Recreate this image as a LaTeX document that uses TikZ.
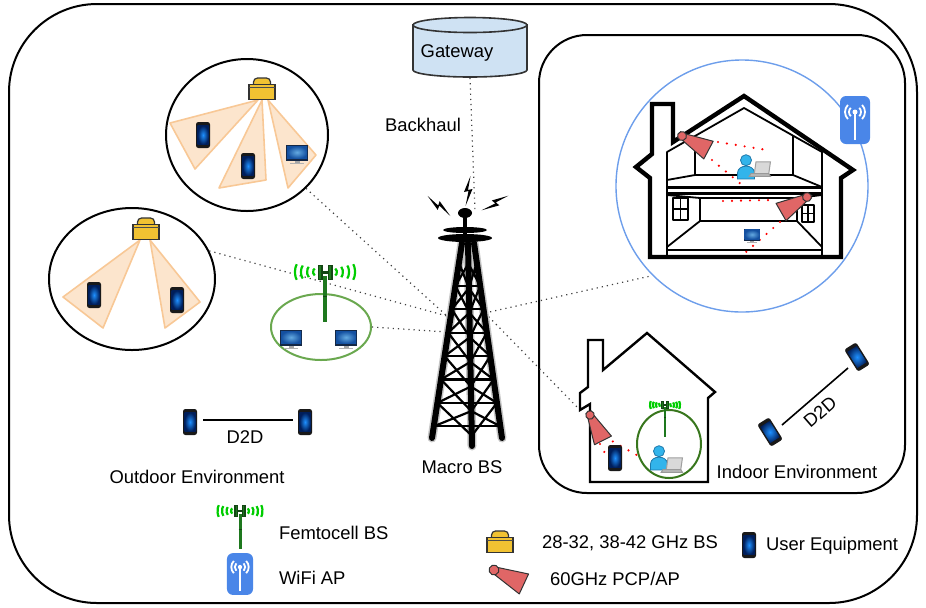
\documentclass[tikz,border=0pt]{standalone}
\usepackage{fontspec}
\setmainfont{Liberation Sans}
\usetikzlibrary{shapes.geometric}

\definecolor{beamfill}{RGB}{252,229,205}
\definecolor{beamedge}{RGB}{248,200,150}
\definecolor{bsyellow}{RGB}{241,194,50}
\definecolor{gwblue}{RGB}{207,226,243}
\definecolor{ringblue}{RGB}{109,158,235}
\definecolor{femgreen}{RGB}{106,168,79}
\definecolor{cellgreen}{RGB}{56,118,29}
\definecolor{mastgreen}{RGB}{30,120,30}
\definecolor{mastdark}{RGB}{20,70,20}
\definecolor{wavegreen}{RGB}{0,205,0}
\definecolor{wifiblue}{RGB}{74,134,232}
\definecolor{pcpred}{RGB}{224,102,102}
\definecolor{personblue}{RGB}{50,180,235}
\definecolor{persondark}{RGB}{30,120,170}
\definecolor{phonelight}{RGB}{30,144,255}
\definecolor{phonedark}{RGB}{0,30,90}
\definecolor{monlight}{RGB}{100,170,225}
\definecolor{mondark}{RGB}{20,80,160}
\definecolor{monframe}{RGB}{20,40,70}

\tikzset{
  beam/.style={fill=beamfill, draw=beamedge, line width=0.8pt, line join=round},
  radio/.style={red, line width=1.2pt, line cap=round, dash pattern=on 0pt off 4.5pt},
  link/.style={black!75, line width=0.6pt, dotted},
  towerleg/.style={line width=3pt, line cap=round},
  towerbar/.style={line width=1.1pt, line cap=round},
  wall/.style={line width=2.2pt, line join=miter},
  room/.style={line width=0.9pt, line join=round},
  phone/.pic={
    \fill[black!90, rounded corners=1.2pt] (-7,-13) rectangle (7,13);
    \shade[inner color=phonelight, outer color=phonedark] (-5.5,-9.5) rectangle (5.5,9.5);
  },
  monitor/.pic={
    \fill[gray!70] (-2.5,7) rectangle (2.5,10);
    \fill[gray!60] (-7,9.5) rectangle (7,11);
    \fill[monframe] (-11,-8) rectangle (11,7.5);
    \shade[inner color=monlight, outer color=mondark] (-10,-7) rectangle (10,5.5);
  },
  bsbox/.pic={
    \draw[fill=bsyellow, draw=black!80, line width=0.6pt, rounded corners=2pt] (-8.5,-7.5) -- (-8.5,-14) -- (8.5,-14) -- (8.5,-7.5);
    \draw[fill=bsyellow, draw=black!80, line width=0.8pt] (-13,-7.5) rectangle (13,7.5);
    \draw[black!70, line width=0.4pt] (-13,-4.5) -- (13,-4.5);
  },
  pcp/.pic={
    \draw[fill=pcpred, draw=black!80, line width=0.5pt, line join=round] (2,-3.5) -- (30,-10) -- (30,10) -- (2,3.5) -- cycle;
    \draw[fill=pcpred, draw=black!80, line width=0.5pt] (0,0) circle (4.5);
  },
  femto/.pic={
    \fill[mastgreen] (-2,4) rectangle (2,50);
    \draw[mastdark, line width=0.4pt] (-2,24) -- (2,24);
    \fill[mastdark] (-7.5,-7.5) rectangle (-2.5,7.5);
    \fill[mastdark] (2.5,-7.5) rectangle (7.5,7.5);
    \fill[mastdark] (-2.5,-1.5) rectangle (2.5,1.5);
    \fill[mastgreen] (-5.8,-6.5) rectangle (-4.2,6.5);
    \fill[mastgreen] (4.2,-6.5) rectangle (5.8,6.5);
    \foreach \d/\h in {12/4,18/6,24/7.5,30/9} {
      \draw[wavegreen, line width=1.1pt, shift={({\d-3.5},0)}] (-60:3.5 and \h) arc[start angle=-60, end angle=60, x radius=3.5, y radius=\h];
      \draw[wavegreen, line width=1.1pt, shift={({3.5-\d},0)}] (120:3.5 and \h) arc[start angle=120, end angle=240, x radius=3.5, y radius=\h];
    }
  },
  wifi/.pic={
    \fill[wifiblue, rounded corners=3pt] (-15,-24) rectangle (15,24);
    \draw[white, line width=0.9pt] (0,-8) -- (0,20);
    \fill[white] (0,-8) circle (2.5);
    \foreach \r in {6,10} {
      \draw[white, line width=0.9pt, shift={(0,-8)}] (-45:\r) arc[start angle=-45, end angle=45, radius=\r];
      \draw[white, line width=0.9pt, shift={(0,-8)}] (135:\r) arc[start angle=135, end angle=225, radius=\r];
    }
  },
  person/.pic={
    \draw[fill=personblue, draw=persondark, line width=0.4pt] (-10,14) -- (-10,7) to[out=90,in=180] (0,-1) to[out=0,in=90] (10,7) -- (10,14) -- cycle;
    \draw[fill=personblue, draw=persondark, line width=0.4pt] (0,-8) circle (6.5);
  },
  laptop/.pic={
    \draw[fill=gray!30, draw=gray!75, line width=0.5pt] (0,-12) -- (17,-12) -- (15,2) -- (-2,2) -- cycle;
    \draw[fill=gray!55, draw=gray!80, line width=0.5pt] (-6,2) -- (15,2) -- (17,5) -- (-8,5) -- cycle;
  },
  bolt/.pic={
    \fill (2.5,-15) -- (-4,1) -- (0.5,0) -- (-2.5,15) -- (4.5,-2) -- (0,-1) -- cycle;
  }
}

\begin{document}
\begin{tikzpicture}[x=0.5pt,y=-0.5pt,font=\fontsize{9.2}{11}\selectfont]
  \useasboundingbox (0,0) rectangle (926,607);
  \draw[line width=1pt, rounded corners=44pt] (9,4) rectangle (917,603);
  \draw[line width=1pt, rounded corners=24pt] (539,35) rectangle (905,493);

  \draw[fill=gwblue, draw=black!80, line width=0.8pt] (413,25) -- (413,70) arc[start angle=180, end angle=0, x radius=57, y radius=7] -- (527,25) -- cycle;
  \draw[fill=gwblue, draw=black!80, line width=0.8pt] (470,25) ellipse (57 and 7.5);
  \node (gateway) at (457,53) {Gateway};
  \node (backhaul) at (423,125) {Backhaul};

  \coordinate (gwb) at (470,78);
  \coordinate (top) at (475,212);
  \coordinate (hubl) at (447,316);
  \coordinate (hubf) at (447,332);
  \coordinate (hubr) at (485,313);
  \coordinate (sh) at (580,410);

  \node[draw, line width=1pt, ellipse, inner sep=0pt, minimum width=81pt, minimum height=76pt] (c1) at (247,135) {};
  \node[draw, line width=1pt, ellipse, inner sep=0pt, minimum width=83pt, minimum height=71pt] (c2) at (132,279) {};
  \node[draw=femgreen, line width=1pt, ellipse, inner sep=0pt, minimum width=50pt, minimum height=33pt] (fz) at (321,327) {};
  \node[draw=ringblue, line width=0.7pt, circle, inner sep=0pt, minimum size=126pt] (hc) at (742,186) {};

  \draw[link] (gwb) -- (top);
  \draw[link] (c1) -- (hubl);
  \draw[link] (c2.20) -- (hubl);
  \draw[link] (fz.east) -- (hubf);
  \draw[link] (hubr) -- (hc.225);
  \draw[link] (hubr) -- (sh);

  \draw[beam] (258,100) -- (170,123) -- (195,169) -- cycle;
  \draw[beam] (262,100) -- (219,188) -- (266,180) -- cycle;
  \draw[beam] (268,100) -- (288,188) -- (316,155) -- cycle;
  \pic at (262,92) {bsbox};
  \pic at (203,135) {phone};
  \pic at (248,166) {phone};
  \pic at (297,153) {monitor};

  \draw[beam] (140,240) -- (63,297) -- (103,328) -- cycle;
  \draw[beam] (150,240) -- (200,302) -- (165,328) -- cycle;
  \pic at (146,232) {bsbox};
  \pic at (94,295) {phone};
  \pic at (177,300) {phone};

  \pic at (325,272) {femto};
  \pic at (291,338) {monitor};
  \pic at (346,338) {monitor};

  \draw[gray!45, line width=4.5pt, line cap=round] (462,243) -- (432,438) (468,243) -- (472,446) (474,243) -- (502,438);
  \draw[towerleg] (462,243) -- (432,438);
  \draw[towerleg] (468,243) -- (472,446);
  \draw[towerleg] (474,243) -- (502,438);
  \foreach \a/\b in {0.1/0.22,0.22/0.34,0.34/0.46,0.46/0.58,0.58/0.7,0.7/0.82,0.82/0.94} {
    \draw[towerbar] ({462-30*\a},{243+195*\a}) -- ({468+4*\b},{243+205*\b});
    \draw[towerbar] ({468+4*\a},{243+205*\a}) -- ({462-30*\b},{243+195*\b});
    \draw[towerbar] ({474+28*\a},{243+195*\a}) -- ({468+4*\b},{243+205*\b});
    \draw[towerbar] ({468+4*\a},{243+205*\a}) -- ({474+28*\b},{243+195*\b});
    \draw[towerbar] ({462-30*\b},{243+195*\b}) -- ({474+28*\b},{243+195*\b});
  }
  \draw[line width=2pt] (465,213) -- (465,240);
  \fill (465,238) ellipse (27 and 4);
  \fill (465,230) ellipse (22 and 3);
  \fill (465,213) ellipse (7 and 5);
  \pic at (468,191) {bolt};
  \pic[rotate=58] at (439,206) {bolt};
  \pic[rotate=-52] at (495,203) {bolt};
  \node (macro) at (462,467) {Macro BS};

  \pic at (190,422) {phone};
  \pic at (305,422) {phone};
  \draw[line width=0.8pt] (203,420) -- (293,420);
  \node (d2dout) at (245,437) {D2D};
  \node (outdoor) at (197,477) {Outdoor Environment};

  \draw[wall] (652,104) -- (673,104) -- (673,142) -- (744,96) -- (853,170) -- (841,178) -- (841,257) -- (650,257) -- (650,178) -- (636,167) -- (652,154) -- cycle;
  \draw[room] (667,257) -- (667,152) -- (744,108) -- (822,152) -- (822,257);
  \draw[room] (695,136) -- (695,175) (793,136) -- (793,175);
  \draw[room] (667,180) -- (695,175) -- (793,175) -- (822,187);
  \draw[line width=1.5pt] (667,187) -- (822,187) (667,193) -- (822,193);
  \draw[room] (700,198) rectangle (797,221);
  \draw[room] (667,195) -- (700,198) (822,195) -- (797,198);
  \draw[room] (700,221) -- (667,247) (797,221) -- (822,247);
  \draw[room] (667,250) -- (822,250);
  \draw[room] (673,198) rectangle (688,220) (680.5,198) -- (680.5,220) (673,209) -- (688,209);
  \draw[room] (802,205) rectangle (814,222) (808,205) -- (808,222) (802,213.5) -- (814,213.5);
  \draw[radio] (718,142) -- (767,150);
  \draw[radio] (712,160) -- (742,185);
  \draw[radio] (723,201) -- (772,200);
  \draw[radio] (780,222) -- (745,253);
  \pic[scale=0.85] at (746,167) {person};
  \pic[scale=0.85] at (756,172) {laptop};
  \pic[scale=0.75] at (752,235) {monitor};
  \pic[rotate=-28] at (682,136) {pcp};
  \pic[rotate=210] at (807,197) {pcp};
  \pic at (855,120) {wifi};

  \draw[line width=1.2pt, line join=miter] (588,340) -- (603,340) -- (603,370) -- (647,333) -- (715,392) -- (708,398) -- (708,482) -- (590,482) -- (590,404) -- (580,410) -- (580,393) -- (588,387) -- cycle;
  \node[draw=cellgreen, line width=1pt, ellipse, inner sep=0pt, minimum width=32pt, minimum height=34pt] (sc) at (669,444) {};
  \fill[mastgreen] (664,420) rectangle (666,437);
  \pic[scale=0.5] at (665,405) {femto};
  \draw[radio] (605,437) -- (642,458);
  \draw[radio] (600,444) -- (606,455);
  \pic[rotate=-63, scale=0.95] at (590,415) {pcp};
  \pic at (615,458) {phone};
  \pic[scale=0.85] at (659,458) {person};
  \pic[scale=0.85] at (668,468) {laptop};

  \pic[rotate=32] at (770,432) {phone};
  \pic[rotate=32] at (857,357) {phone};
  \draw[line width=0.8pt] (782,425) -- (848,368);
  \node[rotate=41] (d2din) at (820,412) {D2D};
  \node (indoor) at (797,472) {Indoor Environment};

  \pic[scale=0.75] at (240,511) {femto};
  \node[anchor=west] (lfemto) at (272,533) {Femtocell BS};
  \pic[scale=0.87] at (240,574) {wifi};
  \node[anchor=west] (lwifi) at (272,578) {WiFi AP};
  \pic at (500,545) {bsbox};
  \node[anchor=west] (lbs) at (535,543) {28-32, 38-42 GHz BS};
  \pic[rotate=-25, scale=1.1] at (494,570) {pcp};
  \node[anchor=west] (lpcp) at (543,579) {60GHz PCP/AP};
  \pic at (749,545) {phone};
  \node[anchor=west] (lue) at (759,546) {User Equipment};
\end{tikzpicture}
\end{document}
